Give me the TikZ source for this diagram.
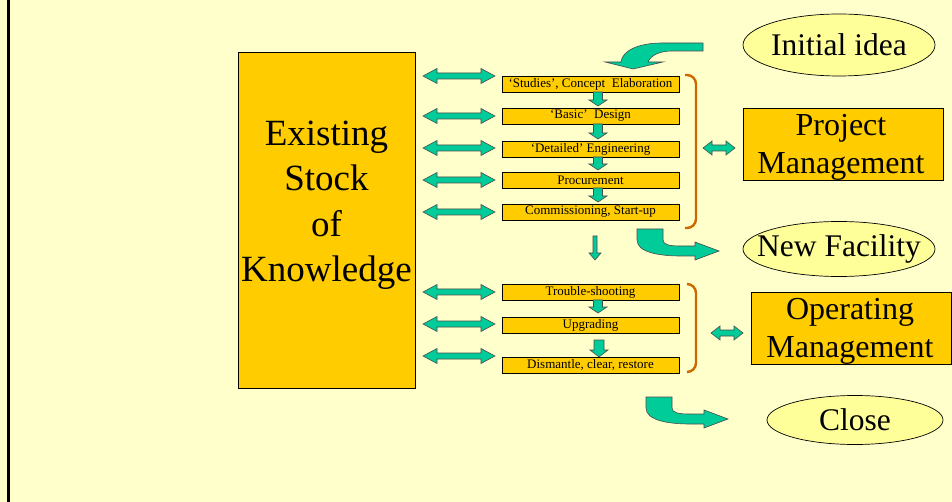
\documentclass[tikz,border=0pt]{standalone}
\usepackage{fontspec}
\setmainfont{Liberation Serif}
\usetikzlibrary{shapes.geometric}
\definecolor{pagebg}{HTML}{FFFFCC}
\definecolor{boxgold}{HTML}{FFCC00}
\definecolor{ovalfill}{HTML}{FFFF99}
\definecolor{flowgreen}{HTML}{00CC99}
\definecolor{bracebrown}{HTML}{CC6600}

% block arrow pointing both ways: x1, x2, y, head length, head half-height, shaft half-height
\newcommand{\twoway}[6]{%
  \draw[greenshape] (#1,#3) -- ({#1+#4},{#3-#5}) -- ({#1+#4},{#3-#6})
    -- ({#2-#4},{#3-#6}) -- ({#2-#4},{#3-#5}) -- (#2,#3)
    -- ({#2-#4},{#3+#5}) -- ({#2-#4},{#3+#6}) -- ({#1+#4},{#3+#6})
    -- ({#1+#4},{#3+#5}) -- cycle;}
% block arrow pointing down: x, y top, y tip, shaft half-width, head half-width, head length
\newcommand{\stepdown}[6]{%
  \draw[greenshape] ({#1-#4},#2) -- ({#1+#4},#2) -- ({#1+#4},{#3-#6})
    -- ({#1+#5},{#3-#6}) -- (#1,#3) -- ({#1-#5},{#3-#6})
    -- ({#1-#4},{#3-#6}) -- cycle;}

\begin{document}
\begin{tikzpicture}[x=1pt,y=-1pt,
  stepbox/.style={draw=black, fill=boxgold, line width=0.8pt,
    minimum width=177pt, minimum height=16pt, inner sep=0pt,
    font=\fontsize{13}{14}\selectfont},
  bigbox/.style={draw=black, fill=boxgold, line width=0.8pt, inner sep=0pt,
    align=center},
  oval/.style={ellipse, draw=black, fill=ovalfill, line width=0.7pt,
    inner sep=0pt},
  bigtext/.style={align=center, inner sep=0pt, font=\fontsize{31.5}{38}\selectfont},
  greenshape/.style={fill=flowgreen, draw=black!70, line width=0.6pt},
  bracket/.style={draw=bracebrown, line width=2.4pt, rounded corners=9pt}]

% page
\fill[pagebg] (0,0) rectangle (952,502);
\useasboundingbox (0,0) rectangle (952,502);
\draw[line width=3pt] (8.5,0) -- (8.5,502);

% knowledge store
\node[bigbox, minimum width=177pt, minimum height=336pt] (know) at (326.5,220) {};
\node[align=center, font=\fontsize{37}{45.5}\selectfont] (knowtext) at (326.5,205)
  {Existing\\Stock\\of\\Knowledge};

% project phases
\node[stepbox] (s1) at (590.5,84)  {`Studies', Concept\ \ Elaboration};
\node[stepbox] (s2) at (590.5,116) {`Basic'\ \ Design};
\node[stepbox] (s3) at (590.5,149) {`Detailed' Engineering};
\node[stepbox] (s4) at (590.5,180) {Procurement};
\node[stepbox] (s5) at (590.5,212) {Commissioning, Start-up};
% operating phases
\node[stepbox] (s6) at (590.5,292) {Trouble-shooting};
\node[stepbox] (s7) at (590.5,325) {Upgrading};
\node[stepbox] (s8) at (590.5,365) {Dismantle, clear, restore};

% management boxes
\node[bigbox, minimum width=200pt, minimum height=72pt] (pm) at (843,144) {};
\node[bigtext, font=\fontsize{32}{38}\selectfont] (pmtext) at (841,147)
  {Project\\Management};
\node[bigbox, minimum width=200pt, minimum height=72pt] (om) at (851,328) {};
\node[bigtext, font=\fontsize{32}{38}\selectfont] (omtext) at (850,331)
  {Operating\\Management};

% start and end states
\node[oval, minimum width=192pt, minimum height=62pt] (idea) at (839,45) {};
\node[bigtext] (ideatext) at (idea) {Initial idea};
\node[oval, minimum width=192pt, minimum height=55pt] (newfac) at (839,249) {};
\node[bigtext] (newfactext) at (newfac) {New Facility};
\node[oval, minimum width=176pt, minimum height=49pt] (close) at (855,420) {};
\node[bigtext] (closetext) at (close) {Close};

% links to the knowledge store
\twoway{423}{495}{76}{14}{7.5}{3}
\twoway{423}{495}{116}{14}{7.5}{3}
\twoway{423}{495}{148}{14}{7.5}{3}
\twoway{423}{495}{180}{14}{7.5}{3}
\twoway{423}{495}{212}{14}{7.5}{3}
\twoway{423}{495}{292}{14}{7.5}{3}
\twoway{423}{495}{324}{14}{7.5}{3}
\twoway{423}{495}{356}{14}{7.5}{3}

% links to management
\twoway{703}{735}{148}{9}{7}{3}
\twoway{711}{743}{333}{9}{7}{3}

% flow between phases
\stepdown{598}{92}{106}{4.5}{9}{6}
\stepdown{598}{124}{139}{4.5}{9}{6}
\stepdown{598}{157}{170}{4.5}{9}{6}
\stepdown{598}{188}{202}{4.5}{9}{6}
\stepdown{598}{300}{313}{4.5}{9}{6}
\stepdown{599}{340}{357}{5}{9}{7}
\stepdown{595}{236}{260}{2}{6}{7}

% phase brackets
\draw[bracket] (685,75) -- (696,75) -- (696,228) -- (685,228);
\draw[bracket] (687,284) -- (696,284) -- (696,372) -- (687,372);

% curved arrow from the initial idea
\draw[greenshape] (703,43) -- (662,43)
  .. controls (638,43) and (622,51) .. (621,62) -- (605,62) -- (633,69)
  -- (663,62) -- (648,62) .. controls (651,55) and (660,51) .. (672,51)
  -- (703,51) -- cycle;

% curved arrows to the end states
\foreach \dx/\dy in {0/0, 9/168}{
  \begin{scope}[shift={(\dx,\dy)}]
    \draw[greenshape] (637,229) -- (663,229) -- (663,240)
      .. controls (663,245) and (670,246) .. (681,246) -- (695,246)
      -- (695,242) -- (719,251) -- (695,260) -- (695,256) -- (681,256)
      .. controls (658,256) and (637,252) .. (637,240) -- cycle;
  \end{scope}}
\end{tikzpicture}
\end{document}
